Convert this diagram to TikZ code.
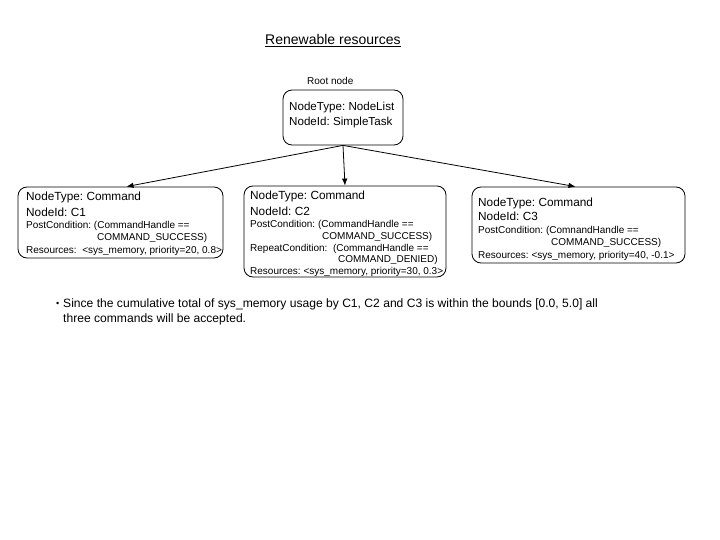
\documentclass[tikz,border=0pt]{standalone}
\usepackage{fontspec}
\setmainfont{Liberation Sans}
\usetikzlibrary{arrows.meta,calc}
\frenchspacing
\tikzset{
  box/.style={draw, line width=0.8pt, rounded corners=9pt, inner sep=0pt},
  big/.style={anchor=base west, inner sep=0pt, font=\fontsize{11.8}{14}\selectfont},
  rootf/.style={anchor=base west, inner sep=0pt, font=\fontsize{11.6}{13}\selectfont},
  small/.style={anchor=base west, inner sep=0pt, font=\fontsize{10}{12}\selectfont},
  conn/.style={line width=0.8pt, -{Latex[length=7pt,width=5.5pt]}}
}
\begin{document}
\begin{tikzpicture}[x=1pt,y=-1pt]
\useasboundingbox (0,0) rectangle (720,540);
% title
\node[anchor=base west, inner sep=0pt, font=\fontsize{14}{16}\selectfont] (title) at (265,44.5) {\underline{Renewable resources}};
\node[anchor=base west, inner sep=0pt, font=\fontsize{10}{12}\selectfont] (rootlbl) at (307,85) {Root node};
% boxes
\node[box, minimum width=120pt, minimum height=55pt] (root) at (343,117.5) {};
\node[box, minimum width=205pt, minimum height=71pt] (c1) at (120.5,222.5) {};
\node[box, minimum width=202pt, minimum height=91pt] (c2) at (345,231.5) {};
\node[box, minimum width=213pt, minimum height=76pt] (c3) at (578.5,225) {};
% root text
\node[rootf] (r1) at (289,111) {NodeType: NodeList};
\node[rootf] (r2) at (289,126) {NodeId: SimpleTask};
% C1 text
\node[big] (a1) at (26,201) {NodeType: Command};
\node[big] (a2) at (26,216) {NodeId: C1};
\node[small] (a3) at (26,229) {PostCondition: (CommandHandle ==};
\node[small] (a4) at (97,240.5) {COMMAND\_SUCCESS)};
\node[small] (a5) at (26,253) {Resources:\ \ \textless sys\_memory, priority=20, 0.8\textgreater};
% C2 text
\node[big] (b1) at (250,200) {NodeType: Command};
\node[big] (b2) at (250,215) {NodeId: C2};
\node[small] (b3) at (250,227.5) {PostCondition: (CommandHandle ==};
\node[small] (b4) at (322,239.5) {COMMAND\_SUCCESS)};
\node[small] (b5) at (250,251.5) {RepeatCondition:\ \ (CommandHandle ==};
\node[small] (b6) at (338,262.5) {COMMAND\_DENIED)};
\node[small] (b7) at (250,274.5) {Resources: \textless sys\_memory, priority=30, 0.3\textgreater};
% C3 text
\node[big] (d1) at (478,207) {NodeType: Command};
\node[big] (d2) at (478,221) {NodeId: C3};
\node[small] (d3) at (478,233.5) {PostCondition: (ComnandHandle ==};
\node[small] (d4) at (551,245.5) {COMMAND\_SUCCESS)};
\node[small] (d5) at (478,258.5) {Resources: \textless sys\_memory, priority=40, -0.1\textgreater};
% connectors
\draw[conn] (root.south) -- ($(c1.north)+(6,0)$);
\draw[conn] (root.south) -- (c2.north);
\draw[conn] (root.south) -- ($(c3.north)+(-3,0)$);
% bullet
\node[anchor=base west, inner sep=0pt, font=\fontsize{9}{11}\selectfont] (bul) at (56,306) {\textbullet};
\node[anchor=base west, inner sep=0pt, font=\fontsize{12.1}{14}\selectfont] (t1) at (63,307) {Since the cumulative total of sys\_memory usage by C1, C2 and C3 is within the bounds [0.0, 5.0] all};
\node[anchor=base west, inner sep=0pt, font=\fontsize{12.1}{14}\selectfont] (t2) at (63,322) {three commands will be accepted.};
\end{tikzpicture}
\end{document}
